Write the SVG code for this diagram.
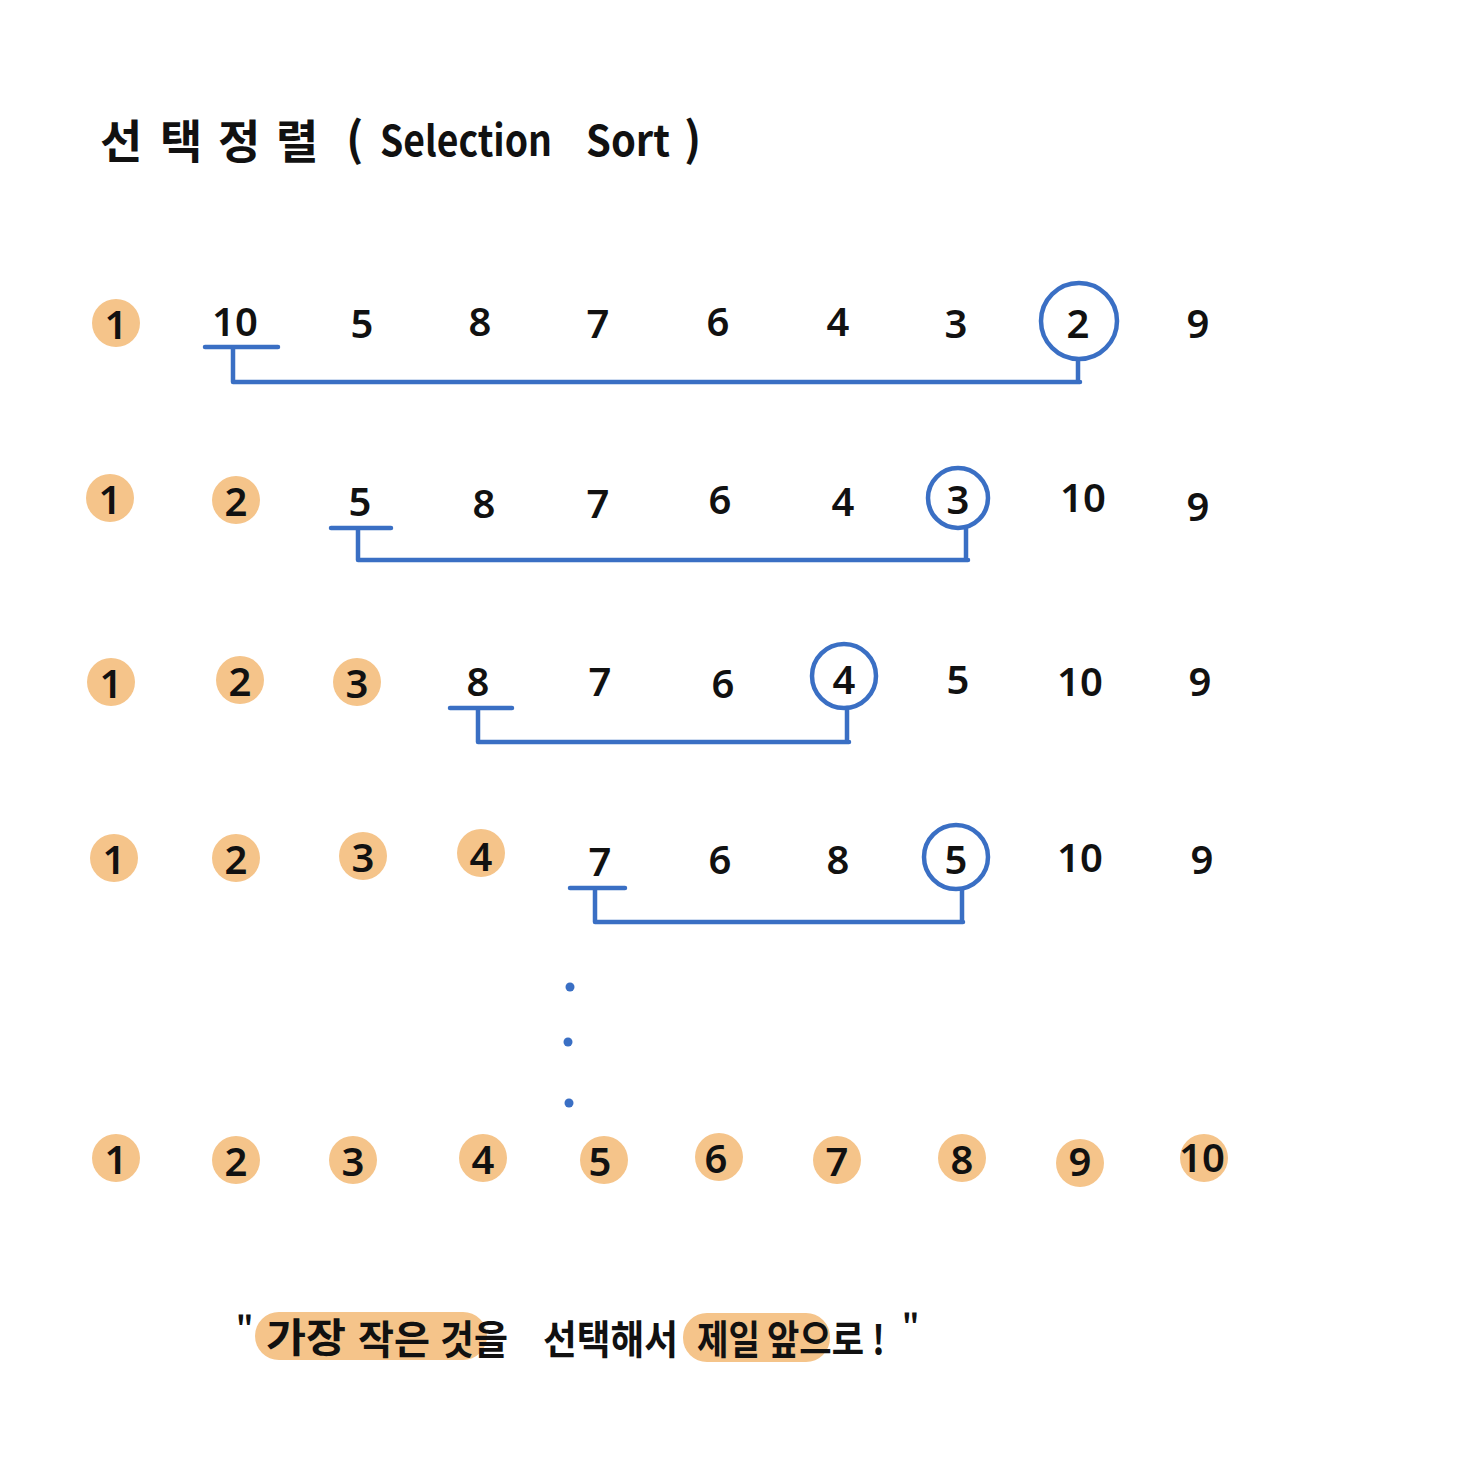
<svg xmlns="http://www.w3.org/2000/svg" width="1468" height="1468" viewBox="0 0 1468 1468">
<style>
.n{font-family:"Noto Sans","Noto Sans CJK KR",sans-serif;font-size:40px;font-weight:600;fill:#111;text-anchor:middle;dominant-baseline:central}
.o{fill:#F5C48A}
.b{fill:none;stroke:#3A6FC4;stroke-width:4.5;stroke-linecap:round;stroke-linejoin:round}
.t{font-family:"Noto Sans CJK KR","Noto Sans",sans-serif;fill:#111;font-weight:700}
.h{font-size:46px}
.l{font-size:42px}
.c{font-size:40px}
.q{font-size:30px}
.d{fill:#3A6FC4}
</style>
<rect width="1468" height="1468" fill="#fff"/>
<g id="title">
<text class="t h" x="100" y="158">선</text>
<text class="t h" x="160" y="158">택</text>
<text class="t h" x="218" y="158">정</text>
<text class="t h" x="276" y="158">렬</text>
<text class="t h" x="346" y="156">(</text>
<text class="t l" x="380" y="156" textLength="172" lengthAdjust="spacingAndGlyphs">Selection</text>
<text class="t l" x="586" y="156" textLength="84" lengthAdjust="spacingAndGlyphs">Sort</text>
<text class="t h" x="684" y="156">)</text>
</g>

<g id="row1">
<circle class="o" cx="116" cy="323" r="24"/><text class="n" x="116" y="323">1</text>
<text class="n" x="235" y="320">10</text>
<text class="n" x="362" y="322">5</text>
<text class="n" x="480" y="320">8</text>
<text class="n" x="598" y="322">7</text>
<text class="n" x="718" y="320">6</text>
<text class="n" x="838" y="320">4</text>
<text class="n" x="956" y="322">3</text>
<circle class="b" cx="1079" cy="321" r="38"/><text class="n" x="1078" y="322">2</text>
<text class="n" x="1198" y="322">9</text>
</g>
<g id="row2">
<circle class="o" cx="110" cy="498" r="24"/><text class="n" x="110" y="498">1</text>
<circle class="o" cx="236" cy="500" r="24"/><text class="n" x="236" y="500">2</text>
<text class="n" x="360" y="500">5</text>
<text class="n" x="484" y="502">8</text>
<text class="n" x="598" y="502">7</text>
<text class="n" x="720" y="498">6</text>
<text class="n" x="843" y="500">4</text>
<circle class="b" cx="958" cy="498" r="30"/><text class="n" x="958" y="498">3</text>
<text class="n" x="1083" y="496">10</text>
<text class="n" x="1198" y="505">9</text>
</g>
<g id="row3">
<circle class="o" cx="111" cy="682" r="24"/><text class="n" x="111" y="682">1</text>
<circle class="o" cx="240" cy="680" r="24"/><text class="n" x="240" y="680">2</text>
<circle class="o" cx="357" cy="682" r="24"/><text class="n" x="357" y="682">3</text>
<text class="n" x="478" y="680">8</text>
<text class="n" x="600" y="680">7</text>
<text class="n" x="723" y="682">6</text>
<circle class="b" cx="844" cy="676" r="32"/><text class="n" x="844" y="678">4</text>
<text class="n" x="958" y="678">5</text>
<text class="n" x="1080" y="680">10</text>
<text class="n" x="1200" y="680">9</text>
</g>
<g id="row4">
<circle class="o" cx="114" cy="858" r="24"/><text class="n" x="114" y="858">1</text>
<circle class="o" cx="236" cy="858" r="24"/><text class="n" x="236" y="858">2</text>
<circle class="o" cx="363" cy="856" r="24"/><text class="n" x="363" y="856">3</text>
<circle class="o" cx="481" cy="853" r="24"/><text class="n" x="481" y="855">4</text>
<text class="n" x="600" y="860">7</text>
<text class="n" x="720" y="858">6</text>
<text class="n" x="838" y="858">8</text>
<circle class="b" cx="956" cy="857" r="32"/><text class="n" x="956" y="858">5</text>
<text class="n" x="1080" y="856">10</text>
<text class="n" x="1202" y="858">9</text>
</g>
<g id="row5">
<circle class="o" cx="116" cy="1158" r="24"/><text class="n" x="116" y="1158">1</text>
<circle class="o" cx="236" cy="1160" r="24"/><text class="n" x="236" y="1160">2</text>
<circle class="o" cx="353" cy="1160" r="24"/><text class="n" x="353" y="1160">3</text>
<circle class="o" cx="483" cy="1158" r="24"/><text class="n" x="483" y="1158">4</text>
<circle class="o" cx="604" cy="1160" r="24"/><text class="n" x="600" y="1160">5</text>
<circle class="o" cx="719" cy="1157" r="24"/><text class="n" x="716" y="1157">6</text>
<circle class="o" cx="837" cy="1160" r="24"/><text class="n" x="837" y="1160">7</text>
<circle class="o" cx="962" cy="1158" r="24"/><text class="n" x="962" y="1158">8</text>
<circle class="o" cx="1080" cy="1163" r="24"/><text class="n" x="1080" y="1160">9</text>
<circle class="o" cx="1204" cy="1158" r="24"/><text class="n" x="1202" y="1156">10</text>
</g>
<g id="connectors">
<path class="b" d="M205 347H278M233 347V382H1080M1078 360V382"/>
<path class="b" d="M331 528H391M358 528V560H968M966 528V560"/>
<path class="b" d="M450 708H512M478 708V742H849M847 708V742"/>
<path class="b" d="M570 888H625M595 888V922H963M962 889V922"/>
<circle class="d" cx="570" cy="987" r="4.5"/>
<circle class="d" cx="568" cy="1042" r="4.5"/>
<circle class="d" cx="569" cy="1103" r="4.5"/>
</g>
<g id="caption">
<rect class="o" x="255" y="1312" width="232" height="48" rx="24"/>
<rect class="o" x="683" y="1313" width="147" height="49" rx="24"/>
<text class="t q" x="236" y="1338">"</text>
<text class="t c" x="266" y="1352" textLength="80" lengthAdjust="spacingAndGlyphs">가장</text>
<text class="t c" x="358" y="1354" textLength="72" lengthAdjust="spacingAndGlyphs">작은</text>
<text class="t c" x="440" y="1354" textLength="68" lengthAdjust="spacingAndGlyphs">것을</text>
<text class="t c" x="543" y="1354" textLength="135" lengthAdjust="spacingAndGlyphs">선택해서</text>
<text class="t c" x="697" y="1354" textLength="63" lengthAdjust="spacingAndGlyphs">제일</text>
<text class="t c" x="767" y="1354" textLength="118" lengthAdjust="spacingAndGlyphs">앞으로 !</text>
<text class="t q" x="902" y="1336">"</text>
</g>
</svg>
